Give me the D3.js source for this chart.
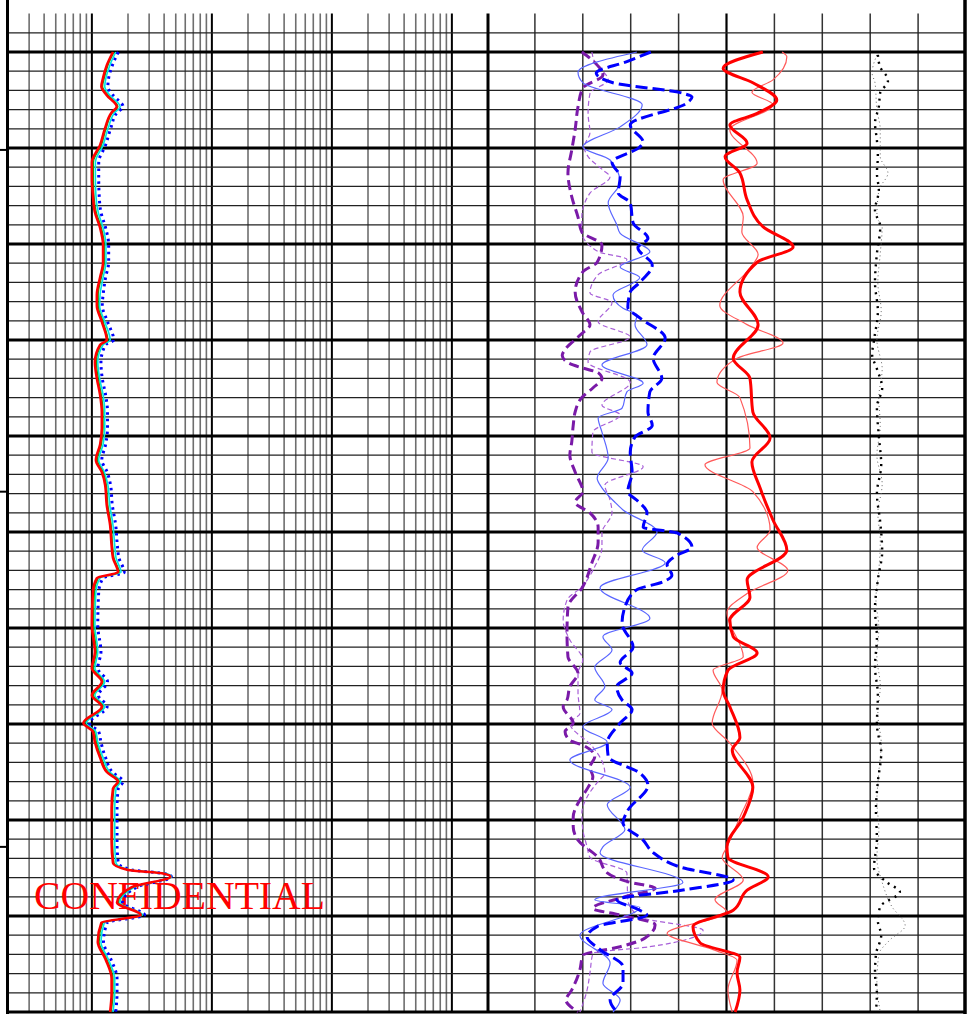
<!DOCTYPE html>
<html>
<head>
<meta charset="utf-8">
<script src="https://cdn.jsdelivr.net/npm/d3@7"></script>
<style>
  html, body { margin: 0; padding: 0; background: #fff; }
  svg { display: block; }
</style>
</head>
<body>
<svg id="log" width="971" height="1014"></svg>
<script>
// ---------- depth frame (m) ----------
const depthTop = 1200;
const depthBase = 1300;
const gridTop = 1196;
const depthMarks = [1210.2, 1245.8, 1282.8];

// ---------- resistivity track (log, ohm.m) ----------
const resDepth = [1200, 1201.4, 1202.7, 1203.6, 1204.5, 1205.7, 1206.3, 1207.9, 1209.7, 1211.5,
  1213.1, 1214.9, 1216.7, 1218.3, 1220.1, 1221.9, 1223.5, 1225.3, 1226.4, 1228.1,
  1230.0, 1230.5, 1232.3, 1234.0, 1235.7, 1237.5, 1239.2, 1240.9, 1242.5, 1243.75,
  1245.1, 1247.2, 1249.3, 1251.4, 1252.7, 1254.2, 1254.8, 1256.25, 1259.7, 1262.5,
  1264.2, 1265.6, 1267.0, 1268.2, 1269.9, 1270.8, 1271.9, 1273.5, 1275.0, 1276.0,
  1276.7, 1278.75, 1282.3, 1284.5, 1285.2, 1285.6, 1285.9, 1287.0, 1288.6, 1289.9,
  1290.7, 1292.7, 1294.5, 1296.5, 1298.0, 1300];
const resDeep = [1.50, 1.33, 1.24, 1.20, 1.33, 1.61, 1.46, 1.29, 1.17, 1.00,
  1.00, 1.02, 1.06, 1.17, 1.24, 1.24, 1.17, 1.10, 1.10, 1.21,
  1.33, 1.17, 1.06, 1.10, 1.17, 1.21, 1.21, 1.17, 1.08, 1.21,
  1.29, 1.33, 1.42, 1.46, 1.50, 1.65, 1.10, 1.02, 1.00, 1.06,
  1.00, 1.21, 1.00, 1.21, 0.85, 1.02, 1.06, 1.17, 1.33, 1.65,
  1.50, 1.46, 1.46, 1.50, 2.00, 4.00, 4.50, 2.15, 1.62, 2.55,
  1.20, 1.12, 1.30, 1.46, 1.46, 1.42];
const resMedium = [1.53, 1.36, 1.27, 1.23, 1.36, 1.65, 1.49, 1.32, 1.20, 1.03,
  1.03, 1.04, 1.09, 1.20, 1.27, 1.27, 1.20, 1.13, 1.13, 1.24,
  1.36, 1.20, 1.09, 1.13, 1.20, 1.24, 1.24, 1.20, 1.11, 1.24,
  1.32, 1.36, 1.45, 1.49, 1.53, 1.69, 1.13, 1.05, 1.03, 1.09,
  1.03, 1.24, 1.03, 1.24, 0.87, 1.05, 1.09, 1.20, 1.36, 1.69,
  1.53, 1.49, 1.49, 1.53, 2.04, 4.10, 4.55, 2.20, 1.66, 2.60,
  1.23, 1.15, 1.33, 1.50, 1.50, 1.45];
const resShallow = [1.58, 1.41, 1.31, 1.28, 1.41, 1.72, 1.55, 1.37, 1.24, 1.07,
  1.07, 1.08, 1.13, 1.24, 1.31, 1.31, 1.24, 1.17, 1.16, 1.28,
  1.42, 1.24, 1.12, 1.16, 1.24, 1.28, 1.28, 1.24, 1.14, 1.27,
  1.36, 1.41, 1.50, 1.55, 1.59, 1.75, 1.17, 1.08, 1.06, 1.12,
  1.06, 1.28, 1.06, 1.28, 0.90, 1.08, 1.12, 1.24, 1.41, 1.74,
  1.59, 1.55, 1.55, 1.59, 2.08, 4.20, 4.60, 2.25, 1.71, 2.65,
  1.27, 1.19, 1.37, 1.55, 1.55, 1.50];
const resFlushed = [1.66, 1.48, 1.38, 1.36, 1.50, 1.82, 1.62, 1.44, 1.30, 1.14,
  1.14, 1.15, 1.19, 1.30, 1.38, 1.38, 1.30, 1.24, 1.22, 1.35,
  1.52, 1.30, 1.19, 1.22, 1.30, 1.35, 1.35, 1.30, 1.21, 1.34,
  1.43, 1.48, 1.58, 1.63, 1.68, 1.86, 1.24, 1.14, 1.12, 1.19,
  1.12, 1.35, 1.13, 1.34, 0.95, 1.14, 1.19, 1.30, 1.48, 1.82,
  1.66, 1.62, 1.62, 1.66, 2.15, 4.10, 4.60, 2.35, 1.80, 2.75,
  1.34, 1.25, 1.44, 1.62, 1.62, 1.58];

// ---------- right track curves: [depth, scale units 0-100] ----------
const purpleThick = [[1200,19.8],[1201,22.3],[1202.4,24.2],[1203.75,20],[1205.7,19],[1208.1,18.4],[1210.2,17.7],
  [1212.6,16.9],[1215.1,17.7],[1217.2,19],[1218.75,19.8],[1220.1,24],[1221.9,23],[1222.9,20],[1225,18.4],
  [1227.2,20],[1228.4,21.5],[1229.5,19.4],[1231,16.3],[1231.6,15.7],[1232.3,16.7],[1232.9,19.8],[1233.4,23.2],
  [1234,24],[1235,22.1],[1236,19.8],[1237.5,18.4],[1238.9,18],[1240.6,17.7],[1242,17.3],[1243.75,18.4],
  [1245.8,20],[1246.9,18.4],[1248,21.5],[1249.5,23.2],[1251.1,23.2],[1253.2,21.9],[1255.7,20],[1257.8,16.9],
  [1260.5,16.7],[1263,16.9],[1264.7,19],[1266.1,17.3],[1267.5,16.7],[1268.2,15.9],[1269.9,18],[1270.8,16.3],
  [1271.7,17.3],[1272.2,20],[1273.4,22.5],[1274.5,21.5],[1275.5,22.1],[1276.6,21.1],[1277.9,19.4],[1279.7,18],
  [1280.7,18],[1282.1,19],[1283.9,23.2],[1285.5,25.1],[1286.5,29.9],[1287.1,35.1],[1288,28.8],[1289.2,22.1],
  [1289.9,27.8],[1290.9,35.1],[1292.3,33],[1293.2,27.8],[1294.1,20],[1295.6,19.4],[1297.7,17.7],[1298.75,16.5],[1300,19]];
const purpleThin = [[1200,21.9],[1201.1,22.5],[1202.9,25.3],[1204.3,21.5],[1206.4,21.1],[1208.4,21.5],[1209.9,20.3],
  [1210.9,21.1],[1212.3,24.2],[1213,25.7],[1214.7,21.5],[1217.2,19.8],[1218.75,19.8],[1220.8,23.2],[1221.6,29.2],
  [1223.2,23.2],[1225.1,21.5],[1226.1,26.1],[1228.1,23.2],[1229.7,29.9],[1231.25,21.5],[1232.3,21.1],[1234.4,29.9],
  [1236.8,24],[1237.8,27.8],[1239.6,22.1],[1241.7,21.9],[1243.2,32.6],[1245.1,24.6],[1246.7,25.7],[1248,26.1],
  [1250.1,24],[1251.6,24],[1253.6,22.5],[1255.7,19.8],[1257.1,16.7],[1259.2,15.9],[1261.25,17.3],[1263.3,20],
  [1264.7,19],[1266.7,19],[1268.9,19.4],[1269.9,17.3],[1272.4,22.1],[1274.1,24.2],[1275.1,24.6],[1276.1,23],
  [1277.6,20.9],[1279.3,19.8],[1281,20],[1282.8,20.9],[1283.9,21.5],[1285.5,29.2],[1288.3,29.4],[1290.1,31.9],
  [1291.5,45.1],[1293.2,34],[1293.9,22.1],[1295.9,21.5],[1297.7,20.9],[1300,19.4]];
const blueThick = [[1200,34.2],[1201,29.2],[1202.2,22.8],[1203.2,26.3],[1204.3,40.9],[1204.7,42.8],[1205.3,41.8],
  [1207.6,29.9],[1209.4,32.6],[1209.9,31.9],[1211.5,26.1],[1213,27.8],[1214.7,27.4],[1215.7,29.9],[1217.8,30.5],
  [1219.4,33.6],[1220.4,31.5],[1222.2,34.5],[1224,31.9],[1225,29.9],[1226.6,29.4],[1227.7,31.9],[1229.8,37.2],
  [1231.9,34.7],[1234,36.5],[1235.4,34],[1237.5,33.6],[1238.9,34.5],[1240.1,30.9],[1241.7,29.9],[1243.75,30.3],
  [1245.8,29.4],[1246.7,31.3],[1248,33.4],[1249.5,32.6],[1250.1,39.7],[1251.6,42.8],[1252.4,39.7],[1253.4,37.6],
  [1254.5,38.6],[1255.2,36.7],[1256,31.3],[1257.8,28.8],[1259.5,28.2],[1262,30.5],[1263.6,27.8],[1264.7,30.3],
  [1266.1,27.1],[1267.5,28.2],[1268.5,30.3],[1269.9,27.8],[1272,25.1],[1273.4,25.3],[1275.1,31.9],[1276.4,33.6],
  [1279,29.4],[1280.3,28.4],[1282.1,32.6],[1283.4,34.7],[1284.9,40.3],[1286.25,51.4],[1287.3,40.9],[1288.3,27.1],
  [1289.4,31.9],[1289.9,33.4],[1291.1,23],[1292.2,20.9],[1293.5,23.6],[1295.3,28.4],[1297,28.4],[1298.75,25.7],[1300,27.1]];
const blueThin = [[1200,31.3],[1202.1,19],[1203.2,20],[1205.5,32.4],[1207.8,27.8],[1209.9,20],[1211.25,25.7],
  [1213.6,27.8],[1215.7,25.3],[1218,27.1],[1218.9,27.8],[1220.8,34],[1222.4,27.8],[1223.5,31.9],[1225.3,26.3],
  [1226.7,28.4],[1227.4,31.3],[1228.4,30.9],[1230.5,33.4],[1232.6,24],[1234.5,32.6],[1235.4,29.2],[1237.1,28.2],
  [1238.1,23.2],[1239.6,24],[1242.3,25.3],[1244.4,23],[1245.4,24],[1246.9,26.7],[1247.7,28.4],[1250,35.5],
  [1251.9,32.4],[1253.2,37.2],[1255.8,23.6],[1259,34],[1260.9,24.2],[1262.3,26.1],[1264.1,22.5],[1266.1,24.6],
  [1267.5,22.5],[1268.5,26.1],[1270.3,20],[1271.9,25.1],[1273.75,17.3],[1276.6,29.9],[1278.4,25.1],[1281,28.8],
  [1282.8,24.2],[1283.4,23.6],[1286.5,40.9],[1288.3,22.5],[1289.1,31.9],[1292,19.4],[1294.9,25.7],[1297,24.2],
  [1298.75,27.8],[1300,26.3]];
const redThick = [[1200,57.6],[1201.7,49.3],[1203.2,55.5],[1205,60.5],[1206.4,56.4],[1207.6,50.7],[1209.5,54.3],
  [1210.9,49.7],[1212.6,52.8],[1215.4,54.3],[1218.2,57.6],[1220.3,63.9],[1221.9,56.4],[1225,52.8],[1228.4,56.6],
  [1231.9,51.4],[1234,54.9],[1237.5,55.5],[1240.2,59.1],[1242.7,55.3],[1245.4,57],[1248.75,59.7],[1251.9,62.6],
  [1255,54.3],[1256.8,54.9],[1259.2,50.7],[1260.9,51.4],[1262.6,56.4],[1264.4,50.3],[1266.5,49.3],[1268.2,50.7],
  [1271.4,52.8],[1272.7,51.2],[1276.6,55.5],[1279.7,53.5],[1282.8,50.1],[1283.9,50.3],[1285.9,58.7],[1287.3,54.3],
  [1289.4,51.4],[1291.1,43],[1292.8,44.5],[1294.3,52.8],[1295.9,52.2],[1297.7,52.8],[1300,51.8]];
const redThin = [[1200,61.6],[1200.5,62.6],[1202.9,59.7],[1204.2,55.3],[1205.5,59.7],[1208.1,50.7],[1211.6,56.4],
  [1213.3,49.3],[1217.2,53.5],[1218.75,53.2],[1221.1,56.6],[1222.5,54.9],[1226.4,48.6],[1228.4,54.3],[1230.3,61.8],
  [1231.9,52.2],[1234.4,48],[1236,52.8],[1241.25,54.9],[1243,45.5],[1245.8,55.5],[1249.8,59.1],[1251.6,56.4],
  [1254,62.8],[1256.4,54.3],[1258.4,50.1],[1263,53.5],[1264.4,47.2],[1266.5,49.1],[1269.9,47],[1272,50.7],
  [1276.1,55.5],[1279.7,52.8],[1282.8,50.1],[1283.9,49.1],[1286.25,53.5],[1288.3,47.6],[1289.6,50.1],[1291.8,37.6],
  [1293.5,47.2],[1294.6,52.2],[1297.7,50.3],[1300,51.2]];
const blackThick = [[1200.3,81.6],[1201.6,82.1],[1202.6,83.5],[1203.1,83.7],[1204.2,82.1],[1205.7,81.8],[1207.4,81],
  [1209.2,81.4],[1210.9,81.6],[1212.6,81.4],[1214.4,81.8],[1216.5,81],[1218.2,82.1],[1221,81.4],[1224,81],
  [1227,81.6],[1230,80.8],[1231.5,80.4],[1233,81.4],[1235,82.5],[1237,81.4],[1240,81.8],[1243,82.3],[1246,81.4],
  [1249,82.1],[1252,82.5],[1255,81.6],[1258,81],[1261,81.4],[1264,81],[1267,81.6],[1270,81.4],[1273,82.3],
  [1276,81.6],[1279,81.2],[1282,81.4],[1285,80.8],[1286.5,83.5],[1287.5,86.2],[1289,82.1],[1290.5,81.6],
  [1292,82.3],[1294,81.2],[1296,81],[1298,81.4],[1300,81.2]];
const blackThin = [[1200.3,81.4],[1202.2,80.4],[1203.2,81],[1206,81.4],[1208.1,82.1],[1210.9,82.1],[1212.6,83.7],
  [1214.4,81.8],[1217.2,81.4],[1218.2,82.5],[1221,82.1],[1224,81.6],[1227,82.3],[1230,81.4],[1233,82.5],
  [1236,81.8],[1239,82.1],[1242,81.4],[1245,82.5],[1248,81.6],[1251,82.1],[1254,81.8],[1257,81.2],[1260,81.8],
  [1263,81.4],[1266,82.1],[1269,81.6],[1272,82.3],[1275,81.8],[1278,81.4],[1281,81.8],[1284,81.4],[1286.5,82.5],
  [1289,84.5],[1291,87.3],[1292.5,84.1],[1294,81.8],[1297,81.4],[1300,82.1]];

const stampText = "CONFIDENTIAL";

// ---------- scales ----------
const svg = d3.select("#log");
const y = d3.scaleLinear().domain([depthTop, depthBase]).range([52, 1012]);
const xRes = d3.scaleLog().domain([0.2, 2000]).range([8, 488]);
const xRight = d3.scaleLinear().domain([0, 100]).range([487, 966]);

const grid = svg.append("g").attr("class", "grid");
const yGridTop = y(gridTop), yGridBot = y(depthBase);

// log track verticals: minor every unit inside each decade, decades heavier
const logTicks = [];
[0.1, 1, 10, 100, 1000].forEach(dec => {
  for (let k = 1; k <= 9; k++) {
    const v = dec * k;
    if (v > 0.2 + 1e-9 && v < 2000 - 1e-9) logTicks.push({ v, major: k === 1 });
  }
});
grid.selectAll("line.logv").data(logTicks).join("line")
  .attr("class", "logv")
  .attr("x1", d => xRes(d.v)).attr("x2", d => xRes(d.v))
  .attr("y1", yGridTop).attr("y2", yGridBot)
  .attr("stroke", d => d.major ? "#000" : "#6e6e6e")
  .attr("stroke-width", d => d.major ? 2 : 1.6);

// right track verticals
const rightTicks = d3.range(10, 100, 10);
grid.selectAll("line.linv").data(rightTicks).join("line")
  .attr("class", "linv")
  .attr("x1", d => xRight(d)).attr("x2", d => xRight(d))
  .attr("y1", yGridTop).attr("y2", yGridBot)
  .attr("stroke", d => d === 50 ? "#000" : "#333")
  .attr("stroke-width", d => d === 50 ? 2.2 : 1.5);

// depth lines every 2 m, heavy every 10 m
const depthLines = d3.range(gridTop + 2, depthBase + 0.001, 2);
grid.selectAll("line.h").data(depthLines).join("line")
  .attr("class", "h")
  .attr("x1", 8).attr("x2", 966)
  .attr("y1", d => y(d)).attr("y2", d => y(d))
  .attr("stroke", d => (d % 10 === 0) ? "#000" : "#222")
  .attr("stroke-width", d => (d % 10 === 0) ? 3 : 1.3);

// track borders
grid.append("line").attr("x1", 7.5).attr("x2", 7.5).attr("y1", 0).attr("y2", 1014)
  .attr("stroke", "#000").attr("stroke-width", 3);
grid.append("line").attr("x1", 965).attr("x2", 965).attr("y1", 0).attr("y2", 1014)
  .attr("stroke", "#000").attr("stroke-width", 3.5);
grid.append("line").attr("x1", xRes(2000)).attr("x2", xRes(2000)).attr("y1", yGridTop).attr("y2", yGridBot)
  .attr("stroke", "#000").attr("stroke-width", 3);

// depth marks on the left edge
grid.selectAll("line.mark").data(depthMarks).join("line")
  .attr("class", "mark")
  .attr("x1", 0).attr("x2", 8)
  .attr("y1", d => y(d)).attr("y2", d => y(d))
  .attr("stroke", "#000").attr("stroke-width", 2);

// stamp
svg.append("text")
  .attr("x", 34).attr("y", 909)
  .attr("font-family", "'Liberation Serif', 'Times New Roman', serif")
  .attr("font-size", 40)
  .attr("textLength", 291)
  .attr("lengthAdjust", "spacingAndGlyphs")
  .attr("fill", "#ff0000")
  .text(stampText);

// ---------- curves ----------
const curves = svg.append("g").attr("class", "curves");
const resLine = d3.line()
  .x(d => xRes(d[1])).y(d => y(d[0]))
  .curve(d3.curveMonotoneY);
const rightLine = d3.line()
  .x(d => xRight(d[1])).y(d => y(d[0]))
  .curve(d3.curveMonotoneY);

const resSeries = [
  { vals: resFlushed, color: "#0000ff", width: 3, dash: "2.5,4" },
  { vals: resShallow, color: "#00e5e5", width: 1.6, dash: null },
  { vals: resMedium, color: "#00b400", width: 1.2, dash: null },
  { vals: resDeep, color: "#ff0000", width: 2.6, dash: null }
];
resSeries.forEach(s => {
  curves.append("path")
    .attr("d", resLine(d3.zip(resDepth, s.vals)))
    .attr("fill", "none").attr("stroke", s.color)
    .attr("stroke-width", s.width)
    .attr("stroke-dasharray", s.dash);
});

const rightSeries = [
  { data: blackThin, color: "#666", width: 1, dash: "1,3" },
  { data: blackThick, color: "#000", width: 2.4, dash: "2,5" },
  { data: purpleThin, color: "#a860d8", width: 1.2, dash: "5,3" },
  { data: purpleThick, color: "#7a1aa8", width: 3, dash: "10,5" },
  { data: blueThin, color: "#5a66ff", width: 1.2, dash: null },
  { data: blueThick, color: "#0000ff", width: 3, dash: "12,5" },
  { data: redThin, color: "#ff5a5a", width: 1.2, dash: null },
  { data: redThick, color: "#ff0000", width: 3, dash: null }
];
rightSeries.forEach(s => {
  curves.append("path")
    .attr("d", rightLine(s.data))
    .attr("fill", "none").attr("stroke", s.color)
    .attr("stroke-width", s.width)
    .attr("stroke-dasharray", s.dash);
});
</script>
</body>
</html>
